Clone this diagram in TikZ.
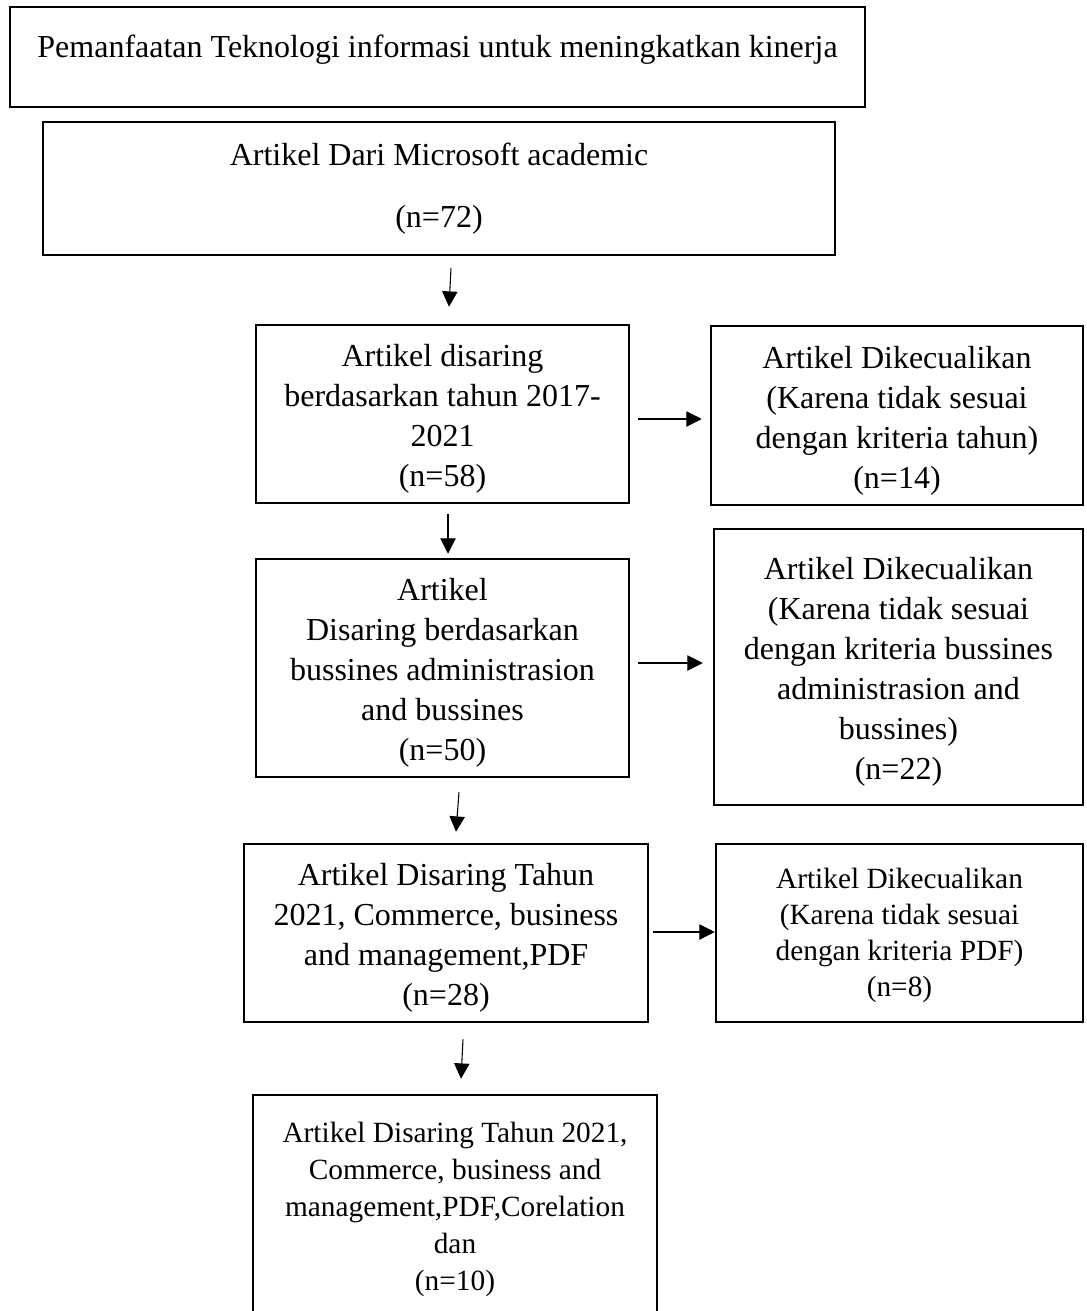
\documentclass[tikz,border=0pt]{standalone}
\usepackage{fontspec}
\setmainfont{Liberation Serif}
\usetikzlibrary{arrows.meta,calc}
\newcommand\myupstrut{\rule{0pt}{24pt}}
\newcommand\mysmallstrut{\rule{0pt}{19.5pt}}
\begin{document}
\begin{tikzpicture}[x=0.75pt,y=-0.75pt,
  box/.style={draw, line width=1.9pt, align=center, inner sep=0pt, font=\fontsize{24}{30}\selectfont},
  smallbox/.style={box, font=\fontsize{22}{27}\selectfont},
  arr/.style={line width=0.8pt, -{Triangle[length=11.5pt,width=11.5pt]}}]
\useasboundingbox (0,0) rectangle (1087,1311);
\clip (0,0) rectangle (1087,1311);
\node[box, minimum width=855*0.75pt, minimum height=100*0.75pt, text height=19.5pt, text depth=19pt] (b1) at (437.5,57)
  {Pemanfaatan Teknologi informasi untuk meningkatkan kinerja};
\node[box, minimum width=792*0.75pt, minimum height=133*0.75pt] (b2) at (439,188.5)
  {Artikel Dari Microsoft academic\\[17pt](n=72)};
\node[box, minimum width=373*0.75pt, minimum height=178*0.75pt] (b3) at (442.5,414)
  {\myupstrut Artikel disaring\\berdasarkan tahun 2017-\\2021\\(n=58)};
\node[box, minimum width=372*0.75pt, minimum height=179*0.75pt] (b4) at (897,415.5)
  {\myupstrut Artikel Dikecualikan\\(Karena tidak sesuai\\dengan kriteria tahun)\\(n=14)};
\node[box, minimum width=373*0.75pt, minimum height=218*0.75pt] (b5) at (442.5,668)
  {\myupstrut Artikel\\Disaring berdasarkan\\bussines administrasion\\and bussines\\(n=50)};
\node[box, minimum width=369*0.75pt, minimum height=276*0.75pt] (b6) at (898.5,667)
  {\myupstrut Artikel Dikecualikan\\(Karena tidak sesuai\\dengan kriteria bussines\\administrasion and\\bussines)\\(n=22)};
\node[box, minimum width=404*0.75pt, minimum height=178*0.75pt] (b7) at (446,933)
  {\myupstrut Artikel Disaring Tahun\\2021, Commerce, business\\and management,PDF\\(n=28)};
\node[smallbox, minimum width=367*0.75pt, minimum height=178*0.75pt] (b8) at (899.5,933)
  {\mysmallstrut Artikel Dikecualikan\\(Karena tidak sesuai\\dengan kriteria PDF)\\(n=8)};
\node[smallbox, font=\fontsize{22}{27.75}\selectfont, minimum width=404*0.75pt, minimum height=223*0.75pt] (b9) at (455,1206.5)
  {\mysmallstrut Artikel Disaring Tahun 2021,\\Commerce, business and\\management,PDF,Corelation\\dan\\(n=10)};
\draw[arr] ($(b2.south)+(12,12)$) -- ($(b3.north)+(6.5,-17)$);
\draw[arr] ($(b3.south)+(5.5,10)$) -- ($(b5.north)+(5.5,-4)$);
\draw[arr] ($(b5.south)+(16.5,14)$) -- ($(b7.north)+(10,-11)$);
\draw[arr] ($(b7.south)+(17,16)$) -- ($(b9.north)+(6,-15)$);
\draw[arr] ($(b3.east)+(8,5)$) -- ($(b4.west)+(-8,3.5)$);
\draw[arr] ($(b5.east)+(8,-5)$) -- ($(b6.west)+(-10,-4)$);
\draw[arr] ($(b7.east)+(4,-1)$) -- ($(b8.west)+(0,-1)$);
\end{tikzpicture}
\end{document}
